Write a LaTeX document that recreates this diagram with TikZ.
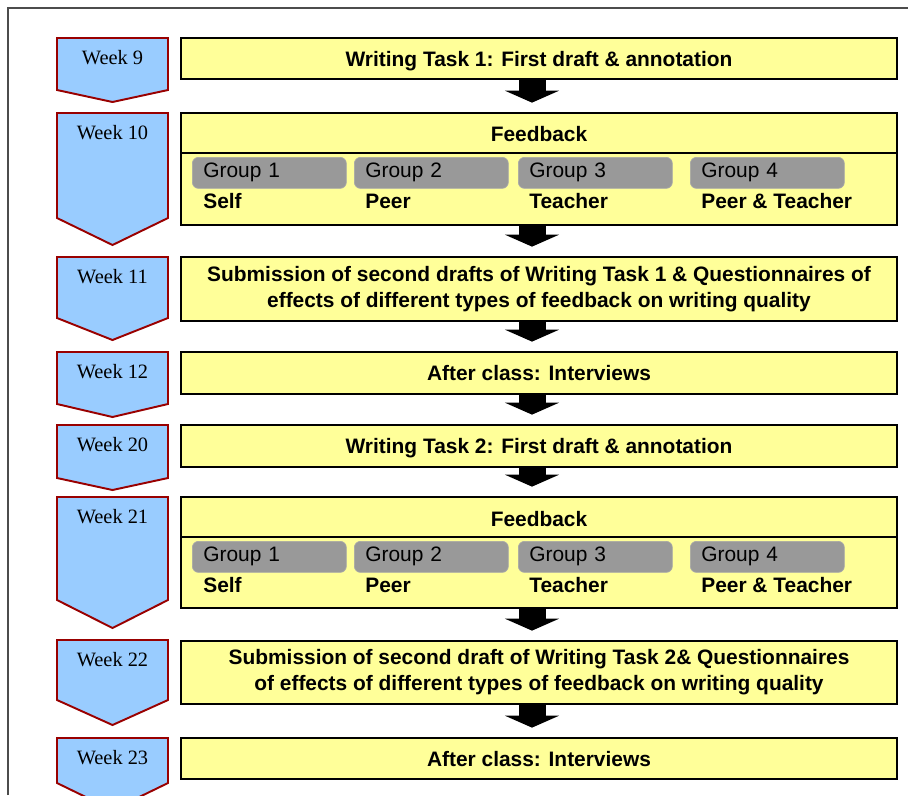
\documentclass[tikz,border=0pt]{standalone}
\usepackage{fontspec}
\setmainfont{Liberation Serif}
\setsansfont{Liberation Sans}
\usetikzlibrary{arrows.meta,positioning}

\definecolor{weekfill}{HTML}{99CCFF}
\definecolor{weekline}{HTML}{990000}
\definecolor{taskfill}{HTML}{FFFF99}
\definecolor{grpfill}{HTML}{999999}

\tikzset{
  weekshape/.style={fill=weekfill,draw=weekline,line width=1.1pt,line join=miter},
  weeklbl/.style={font=\rmfamily\fontsize{11.6pt}{13pt}\selectfont,inner sep=0pt},
  taskbox/.style={draw=black,fill=taskfill,line width=1pt,minimum width=14.32cm,
    align=center,font=\sffamily\bfseries\fontsize{11.9pt}{14.7pt}\selectfont},
  oneline/.style={text depth=0pt},
  grpbox/.style={fill=grpfill,draw=grpfill!85!white,rounded corners=3.5pt,minimum height=0.62cm,
    text width=2.64cm,inner xsep=0.22cm,align=left,font=\sffamily\fontsize{11.9pt}{14pt}\selectfont},
  grplbl/.style={inner sep=0pt,font=\sffamily\bfseries\fontsize{11.9pt}{14pt}\selectfont},
  flowarrow/.style={line width=0.54cm,-{Triangle[length=0.24cm,width=1.08cm]},shorten >=0.19cm}
}

\begin{document}
\begin{tikzpicture}[x=0.02cm,y=-0.02cm]
    \useasboundingbox (0,0) rectangle (908,795);

    % Frame (cut off at right and bottom)
    \draw[gray!60!black,semithick] (8,795) -- (8,8) -- (908,8);

    % Weeks: pentagons pointing down
    \foreach \wk/\top/\side/\tip in {9/38/90/102, 10/113/218/245, 11/257/318/340,
        12/352/404/417, 20/425/478/490, 21/497/600/628, 22/640/700/725, 23/738/783/810}{
        \draw[weekshape] (57,\top) -- (168,\top) -- (168,\side) -- (112.5,\tip) -- (57,\side) -- cycle;
        \node[weeklbl] (w\wk) at (112.5,\top+20) {Week \wk};
    }

    % Tasks
    \node[taskbox,oneline,minimum height=0.82cm] (b9) at (539,58.5) {Writing Task 1: First draft \& annotation};
    \node[taskbox,minimum height=2.24cm] (b10) at (539,169) {};
    \node[taskbox,minimum height=1.28cm] (b11) at (539,289)
        {Submission of second drafts of Writing Task 1 \& Questionnaires of\\
         effects of different types of feedback on writing quality};
    \node[taskbox,oneline,minimum height=0.84cm] (b12) at (539,373) {After class: Interviews};
    \node[taskbox,oneline,minimum height=0.84cm] (b20) at (539,446) {Writing Task 2: First draft \& annotation};
    \node[taskbox,minimum height=2.22cm] (b21) at (539,552.5) {};
    \node[taskbox,minimum height=1.26cm] (b22) at (539,672.5)
        {Submission of second draft of Writing Task 2\& Questionnaires\\
         of effects of different types of feedback on writing quality};
    \node[taskbox,oneline,minimum height=0.82cm] (b23) at (539,758.5) {After class: Interviews};

    % Feedback boxes: title, divider, groups
    \foreach \fb/\ty/\dy/\gy/\ly in {10/134/153/157/201, 21/519/537/541/585}{
        \node[taskbox,draw=none,fill=none] (fb\fb) at (539,\ty) {Feedback};
        \draw[line width=1pt] (b\fb.west |- 0,\dy) -- (b\fb.east |- 0,\dy);
        \foreach \g/\gx/\lab in {1/192/Self, 2/354/Peer, 3/518/Teacher, 4/690/Peer \& Teacher}{
            \node[grpbox,anchor=north west] (g\fb-\g) at (\gx,\gy) {Group \g};
            \node[grplbl,anchor=west] (l\fb-\g) at (\gx+11,\ly) {\lab};
        }
    }

    % Flow arrows
    \foreach \a/\b in {b9/b10, b10/b11, b11/b12, b12/b20, b20/b21, b21/b22, b22/b23}
        \draw[flowarrow] ([xshift=-0.14cm]\a.south) -- ([xshift=-0.14cm]\b.north);
\end{tikzpicture}
\end{document}
